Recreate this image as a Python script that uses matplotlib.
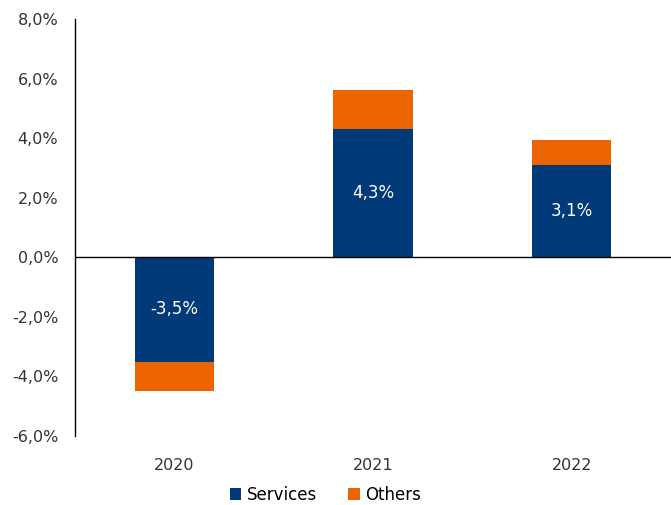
import numpy as np
import matplotlib.pyplot as plt
from matplotlib.ticker import FuncFormatter

plt.rcParams['font.family'] = ['DejaVu Sans']

years = ['2020', '2021', '2022']
services = [-3.5, 4.3, 3.1]
others = [-1.0, 1.33, 0.83]
labels = ['-3,5%', '4,3%', '3,1%']

navy = '#003A78'
orange = '#EC6500'

fig = plt.figure(figsize=(6.71, 5.05), dpi=100)
ax = fig.add_axes([0.1118, 0.1366, 0.8882, 0.8258])

x = np.arange(len(years))
ax.bar(x, services, width=0.4, color=navy, label='Services')
ax.bar(x, others, width=0.4, bottom=services, color=orange, label='Others')

for xi, v, t in zip(x, services, labels):
    ax.text(xi, v / 2, t, ha='center', va='center', color='white', fontsize=12)

ax.axhline(0, color='black', lw=1)
ax.set_xlim(-0.5, 2.5)
ax.set_ylim(-6, 8)
ax.set_yticks(np.arange(-6, 9, 2))
ax.yaxis.set_major_formatter(FuncFormatter(lambda v, p: f'{v:.1f}%'.replace('.', ',')))
ax.set_xticks(x)
ax.set_xticklabels(years)
ax.tick_params(axis='both', length=0, labelsize=11.5, colors='#333333')
ax.tick_params(axis='x', pad=16)
ax.tick_params(axis='y', pad=12)
for s in ['top', 'right', 'bottom']:
    ax.spines[s].set_visible(False)
ax.spines['left'].set_color('black')
ax.spines['left'].set_linewidth(1)

ax.legend(loc='upper center', bbox_to_anchor=(0.42, -0.088), ncol=2, frameon=False,
          fontsize=12, handlelength=0.7, handleheight=0.7, handletextpad=0.3, columnspacing=1.9,
          borderpad=0.3)

fig.savefig('out.png', dpi=100)
